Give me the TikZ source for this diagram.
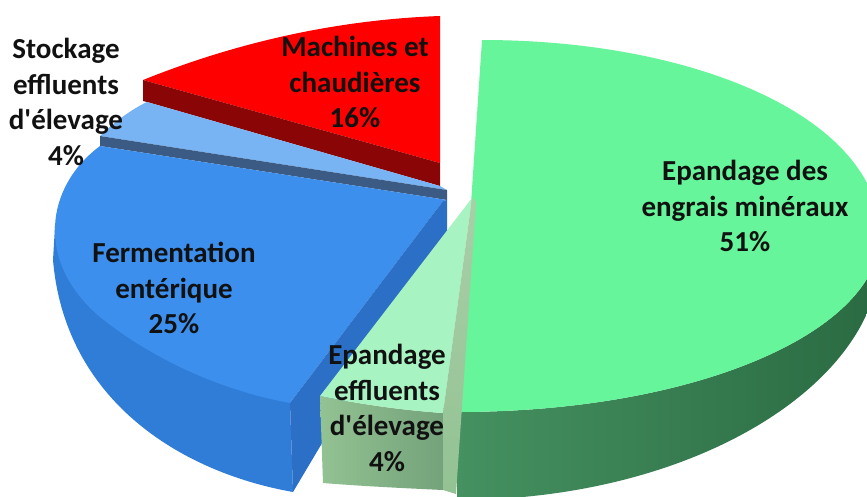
\documentclass[tikz,border=0pt]{standalone}
\usepackage{fontspec}
\setmainfont{Carlito}
\definecolor{redtop}{HTML}{FF0000}
\definecolor{reddark}{HTML}{8A0606}
\definecolor{lbluetop}{HTML}{78B4F4}
\definecolor{slate}{HTML}{3B5B84}
\definecolor{bluetop}{HTML}{3C8FEC}
\definecolor{bluewall}{HTML}{307DD8}
\definecolor{blueside}{HTML}{2B6FC6}
\definecolor{greentop}{HTML}{66F59A}
\definecolor{greenwallL}{HTML}{459160}
\definecolor{greenwallR}{HTML}{2A6A42}
\definecolor{lgtop}{HTML}{A7F3C1}
\definecolor{lgside}{HTML}{A9CFA9}
\definecolor{lgwallL}{HTML}{93C293}
\definecolor{lgwallR}{HTML}{74A27A}
\definecolor{txt}{HTML}{111111}
\begin{document}
\begin{tikzpicture}[x=1pt,y=-1pt,
  lbl/.style={font=\bfseries\fontsize{29}{35.5}\selectfont, align=center, text=txt, inner sep=0pt}]
\useasboundingbox (0,0) rectangle (867,496);
% red slice
\fill[redtop] (143,80) .. controls (230,45) and (330,20) .. (440,16) -- (440,163) -- cycle;
\fill[reddark] (143,80) -- (440,163) -- (440,186) -- (147,102) -- (143,101) -- cycle;
% light blue slice
\fill[lbluetop] (147,102) -- (440,186) -- (447,190) -- (100,136) .. controls (112,124) and (130,110) .. (147,102) -- cycle;
\fill[slate] (100,136) -- (447,190) -- (447,200) -- (100,146) -- cycle;
% blue slice
\fill[bluewall] (60,226) -- (55,226) -- (53,260) .. controls (65,400) and (180,472) .. (293,492) -- (290,403) -- (200,300) -- cycle;
\fill[bluetop] (100,146) .. controls (45,187) and (35,262) .. (100,317) .. controls (160,365) and (230,392) .. (290,403) -- (443,201) -- (447,200) -- cycle;
\fill[blueside] (443,201) -- (447,200) -- (447,233) -- (293,492) -- (290,403) -- cycle;
% big green slice
\shade[left color=greenwallL, right color=greenwallR] (457,412) .. controls (700,412) and (880,330) .. (880,235) -- (880,255) .. controls (880,380) and (700,500) .. (457,500) -- cycle;
\fill[greentop] (482,40) .. controls (700,40) and (880,120) .. (880,235) .. controls (880,330) and (700,412) .. (457,412) -- cycle;
% small green slice
\shade[left color=lgwallL, right color=lgwallR] (320,396) .. controls (360,404) and (400,410) .. (443,413) -- (443,490) .. controls (400,488) and (360,486) .. (323,483) -- cycle;
\fill[lgtop] (472,198) -- (320,396) .. controls (360,404) and (400,410) .. (443,413) -- cycle;
\shade[top color=lgside, bottom color=lgwallL] (472,198) -- (476,202) -- (456,494) -- (443,490) -- (443,413) -- cycle;
% labels
\node[lbl] (m) at (355,82) {Machines et\\chaudières\\16\%};
\node[lbl] (s) at (66,102) {Stockage\\effluents\\d\textquotesingle élevage\\4\%};
\node[lbl] (f) at (174,288) {Fermentation\\entérique\\25\%};
\node[lbl] (e) at (387,408) {Epandage\\effluents\\d\textquotesingle élevage\\4\%};
\node[lbl] (g) at (745,206) {Epandage des\\engrais minéraux\\51\%};
\end{tikzpicture}
\end{document}
